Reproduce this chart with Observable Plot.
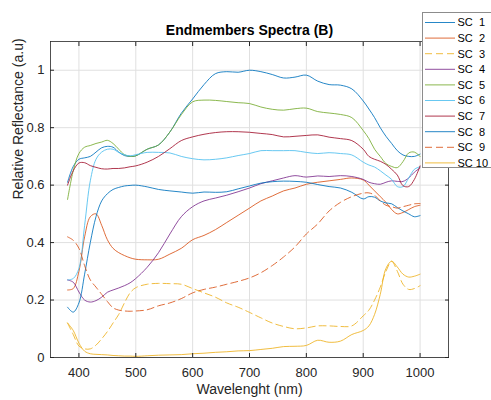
<!DOCTYPE html>
<html>
<head>
<meta charset="utf-8">
<script src="https://cdn.jsdelivr.net/npm/d3@7"></script>
<script src="https://cdn.jsdelivr.net/npm/@observablehq/plot@0.6"></script>
<style>
  html, body { margin: 0; padding: 0; background: #fff; overflow: hidden; }
  #wrap { position: relative; width: 491px; height: 400px; overflow: hidden; font-family: "Liberation Sans", Arial, sans-serif; }
  #legend { position: absolute; left: 422px; top: 12px; }
</style>
</head>
<body>
<div id="wrap"><div id="chart"></div><div id="legend"></div></div>
<script>
const wavelengths = [380,390,400,410,420,430,440,450,460,470,480,490,500,520,540,560,580,600,620,640,660,680,700,720,740,760,780,800,820,840,860,880,900,910,920,930,940,950,960,970,980,990,1000];

const sc1 = [.61,.665,.69,.695,.70,.715,.73,.735,.732,.715,.703,.70,.702,.725,.74,.785,.85,.90,.95,.988,.995,.993,1.0,.995,.985,.973,.976,.983,.962,.95,.948,.935,.893,.865,.835,.80,.77,.745,.72,.705,.70,.70,.708];
const sc2 = [.235,.24,.30,.42,.49,.50,.46,.41,.38,.365,.355,.347,.342,.34,.342,.36,.38,.41,.425,.445,.47,.495,.52,.545,.562,.58,.59,.603,.61,.615,.62,.625,.618,.60,.58,.56,.54,.515,.50,.505,.515,.525,.53];
const sc3 = [.12,.08,.04,.03,.03,.043,.065,.09,.12,.15,.19,.225,.243,.255,.258,.257,.255,.24,.225,.21,.19,.175,.157,.138,.12,.108,.10,.103,.11,.11,.108,.11,.145,.165,.20,.245,.30,.335,.30,.255,.237,.24,.25];
const sc4 = [.27,.262,.228,.20,.193,.198,.21,.227,.235,.242,.25,.26,.275,.314,.365,.43,.49,.525,.545,.555,.565,.577,.59,.605,.615,.625,.633,.628,.632,.63,.633,.63,.62,.61,.605,.603,.61,.615,.613,.613,.625,.645,.66];
const sc5 = [.55,.65,.71,.732,.738,.745,.75,.756,.745,.725,.706,.70,.702,.725,.74,.785,.845,.89,.896,.895,.891,.887,.884,.872,.864,.861,.866,.868,.856,.851,.846,.835,.79,.762,.725,.70,.675,.665,.661,.682,.712,.715,.70];
const sc6 = [.27,.275,.31,.46,.615,.69,.715,.725,.725,.714,.706,.702,.706,.714,.714,.712,.70,.692,.688,.69,.695,.703,.71,.72,.72,.72,.72,.714,.71,.713,.71,.705,.68,.67,.663,.65,.635,.62,.595,.595,.625,.655,.664];
const sc7 = [.60,.65,.677,.678,.668,.662,.657,.656,.658,.658,.66,.664,.667,.68,.70,.727,.755,.768,.777,.783,.786,.786,.784,.78,.776,.768,.77,.773,.775,.767,.762,.755,.725,.70,.69,.683,.672,.655,.635,.598,.595,.62,.667];
const sc8 = [.175,.158,.19,.29,.40,.49,.545,.57,.585,.592,.597,.599,.60,.594,.585,.58,.576,.572,.576,.575,.577,.587,.597,.607,.612,.614,.613,.61,.602,.595,.59,.575,.552,.56,.558,.545,.538,.535,.522,.51,.50,.49,.494];
const sc9 = [.42,.408,.38,.32,.27,.245,.22,.195,.173,.165,.162,.161,.162,.166,.18,.19,.205,.225,.237,.245,.255,.265,.277,.295,.32,.35,.385,.43,.465,.51,.54,.56,.572,.573,.565,.545,.53,.525,.52,.525,.53,.535,.536];
const sc10 = [.12,.094,.05,.022,.013,.011,.01,.009,.007,.006,.005,.005,.004,.006,.008,.009,.01,.013,.015,.018,.02,.023,.024,.028,.032,.038,.039,.042,.06,.053,.057,.08,.094,.11,.15,.22,.31,.335,.315,.29,.28,.283,.29];

const seriesNames = ["SC  1","SC  2","SC  3","SC  4","SC  5","SC  6","SC  7","SC  8","SC  9","SC 10"];
const seriesValues = [sc1, sc2, sc3, sc4, sc5, sc6, sc7, sc8, sc9, sc10];
const dashedSeries = ["SC  3", "SC  9"];

const xTicks = [400,500,600,700,800,900,1000];
const xTickLabels = ["400","500","600","700","800","900","1000"];
const yTicks = [0,0.2,0.4,0.6,0.8,1];
const yTickLabels = ["0","0.2","0.4","0.6","0.8","1"];

const titleText = "Endmembers Spectra (B)";
const xLabel = "Wavelenght (nm)";
const yLabel = "Relative Reflectance (a.u)";

// styles
const colors = ["#0072BD","#D95319","#EDB120","#7E2F8E","#77AC30","#4DBEEE","#A2142F","#0072BD","#D95319","#EDB120"];
const ink = "#262626";
const font = "Liberation Sans, Arial, sans-serif";

const rows = [];
seriesNames.forEach((name, i) => {
  seriesValues[i].forEach((v, j) => rows.push({series: name, wl: wavelengths[j], value: v}));
});
const solidRows = rows.filter(d => !dashedSeries.includes(d.series));
const dashedRows = rows.filter(d => dashedSeries.includes(d.series));

const chart = Plot.plot({
  width: 491,
  height: 400,
  marginLeft: 50,
  marginRight: 43,
  marginTop: 41,
  marginBottom: 43,
  style: {fontFamily: font, fontSize: "13px", color: ink, background: "#fff"},
  x: {domain: [350, 1050], ticks: xTicks, label: null},
  y: {domain: [0, 1.1], ticks: yTicks, label: null},
  color: {domain: seriesNames, range: colors},
  marks: [
    Plot.gridX(xTicks, {stroke: "#e0e0e0", strokeOpacity: 1}),
    Plot.gridY(yTicks, {stroke: "#e0e0e0", strokeOpacity: 1}),
    Plot.line(solidRows, {x: "wl", y: "value", z: "series", stroke: "series", strokeWidth: 1, strokeOpacity: 0.85, curve: "catmull-rom"}),
    Plot.line(dashedRows, {x: "wl", y: "value", z: "series", stroke: "series", strokeWidth: 1, strokeOpacity: 0.85, strokeDasharray: "7,4", curve: "catmull-rom"}),
    Plot.frame({stroke: ink, strokeWidth: 0.8}),
    Plot.axisX(xTicks, {anchor: "bottom", tickSize: -4, tickPadding: 14, fontSize: 13, color: ink, tickFormat: (d, i) => xTickLabels[i], label: null}),
    Plot.axisX(xTicks, {anchor: "top", tickSize: -4, text: null, label: null}),
    Plot.axisY(yTicks, {anchor: "left", tickSize: -4, tickPadding: 10, fontSize: 13, color: ink, tickFormat: (d, i) => yTickLabels[i], label: null}),
    Plot.axisY(yTicks, {anchor: "right", tickSize: -4, text: null, label: null}),
    Plot.text([titleText], {frameAnchor: "top", dy: -11, lineAnchor: "middle", fontWeight: "bold", fontSize: 14, fill: "#000"}),
    Plot.text([xLabel], {frameAnchor: "bottom", dy: 32, lineAnchor: "middle", fontSize: 14, fill: ink}),
    Plot.text([yLabel], {frameAnchor: "left", dx: -32, rotate: -90, lineAnchor: "middle", fontSize: 14, fill: ink})
  ]
});
document.getElementById("chart").appendChild(chart);

// legend
const lg = d3.select("#legend").append("svg").attr("width", 80).attr("height", 156);
lg.append("rect").attr("x", 0.5).attr("y", 0.5).attr("width", 78).attr("height", 155)
  .attr("fill", "#fff").attr("stroke", "#8c8c8c").attr("stroke-width", 1);
seriesNames.forEach((name, i) => {
  const y = 10.5 + i * 15.6;
  lg.append("line").attr("x1", 3).attr("x2", 33).attr("y1", y).attr("y2", y)
    .attr("stroke", colors[i]).attr("stroke-width", 1).attr("stroke-opacity", 0.85)
    .attr("stroke-dasharray", dashedSeries.includes(name) ? "7,4" : null);
  lg.append("text").attr("x", 35.5).attr("y", y).attr("dy", "0.35em")
    .attr("font-size", 11).attr("fill", "#000").style("white-space", "pre")
    .attr("font-family", font).text(name);
});
</script>
</body>
</html>
